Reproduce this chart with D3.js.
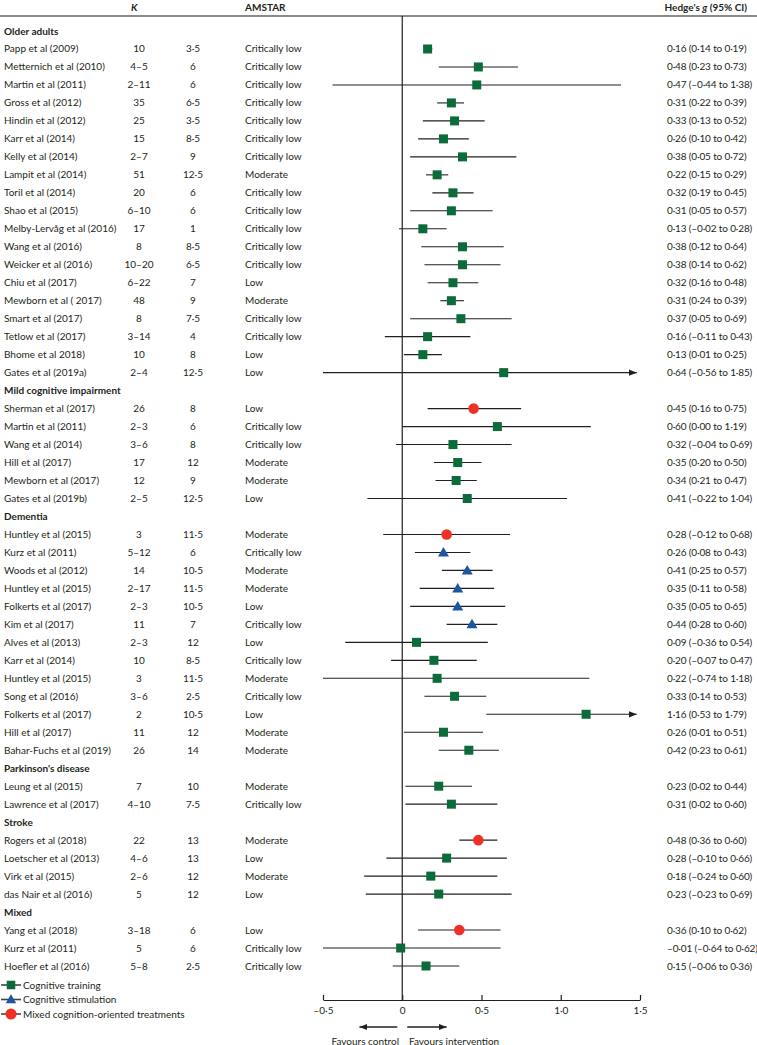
<!DOCTYPE html>
<html><head><meta charset="utf-8">
<script src="https://cdn.jsdelivr.net/npm/d3@7"></script>
<style>
body{margin:0;background:#fff;}
text{font-family:Lato,"Open Sans",sans-serif;fill:#231f20;}
</style></head><body>
<svg id="chart" width="757" height="1045"></svg>
<script>
const groupNames = ["Older adults","Mild cognitive impairment","Dementia","Parkinson's disease","Stroke","Mixed"];
const groupCounts = [19,6,13,2,4,3];
const studies = ["Papp et al (2009)","Metternich et al (2010)","Martin et al (2011)","Gross et al (2012)","Hindin et al (2012)","Karr et al (2014)","Kelly et al (2014)","Lampit et al (2014)","Toril et al (2014)","Shao et al (2015)","Melby-Lervåg et al (2016)","Wang et al (2016)","Weicker et al (2016)","Chiu et al (2017)","Mewborn et al ( 2017)","Smart et al (2017)","Tetlow et al (2017)","Bhome et al  2018)","Gates et al (2019a)",
"Sherman et al (2017)","Martin et al (2011)","Wang et al (2014)","Hill et al (2017)","Mewborn et al (2017)","Gates et al (2019b)",
"Huntley et al (2015)","Kurz et al (2011)","Woods et al (2012)","Huntley et al (2015)","Folkerts et al (2017)","Kim et al (2017)","Alves et al (2013)","Karr et al (2014)","Huntley et al (2015)","Song et al (2016)","Folkerts et al (2017)","Hill et al (2017)","Bahar-Fuchs et al (2019)",
"Leung et al (2015)","Lawrence et al (2017)",
"Rogers et al (2018)","Loetscher et al (2013)","Virk et al (2015)","das Nair et al (2016)",
"Yang et al (2018)","Kurz et al (2011)","Hoefler et al (2016)"];
const kValues = ["10","4–5","2–11","35","25","15","2–7","51","20","6–10","17","8","10–20","6–22","48","8","3–14","10","2–4",
"26","2–3","3–6","17","12","2–5",
"3","5–12","14","2–17","2–3","11","2–3","10","3","3–6","2","11","26",
"7","4–10",
"22","4–6","2–6","5",
"3–18","5","5–8"];
const amstarScores = ["3·5","6","6","6·5","3·5","8·5","9","12·5","6","6","1","8·5","6·5","7","9","7·5","4","8","12·5",
"8","6","8","12","9","12·5",
"11·5","6","10·5","11·5","10·5","7","12","8·5","11·5","2·5","10·5","12","14",
"10","7·5",
"13","13","12","12",
"6","6","2·5"];
const quality = ["Critically low","Critically low","Critically low","Critically low","Critically low","Critically low","Critically low","Moderate","Critically low","Critically low","Critically low","Critically low","Critically low","Low","Moderate","Critically low","Critically low","Low","Low",
"Low","Critically low","Critically low","Moderate","Moderate","Low",
"Moderate","Critically low","Moderate","Moderate","Low","Critically low","Low","Critically low","Moderate","Critically low","Low","Moderate","Moderate",
"Moderate","Critically low",
"Moderate","Low","Moderate","Low",
"Low","Critically low","Critically low"];
const gValues = [0.16,0.48,0.47,0.31,0.33,0.26,0.38,0.22,0.32,0.31,0.13,0.38,0.38,0.32,0.31,0.37,0.16,0.13,0.64,
0.45,0.60,0.32,0.35,0.34,0.41,
0.28,0.26,0.41,0.35,0.35,0.44,0.09,0.20,0.22,0.33,1.16,0.26,0.42,
0.23,0.31,
0.48,0.28,0.18,0.23,
0.36,-0.01,0.15];
const ciLow = [0.14,0.23,-0.44,0.22,0.13,0.10,0.05,0.15,0.19,0.05,-0.02,0.12,0.14,0.16,0.24,0.05,-0.11,0.01,-0.56,
0.16,0.00,-0.04,0.20,0.21,-0.22,
-0.12,0.08,0.25,0.11,0.05,0.28,-0.36,-0.07,-0.74,0.14,0.53,0.01,0.23,
0.02,0.02,
0.36,-0.10,-0.24,-0.23,
0.10,-0.64,-0.06];
const ciHigh = [0.19,0.73,1.38,0.39,0.52,0.42,0.72,0.29,0.45,0.57,0.28,0.64,0.62,0.48,0.39,0.69,0.43,0.25,1.85,
0.75,1.19,0.69,0.50,0.47,1.04,
0.68,0.43,0.57,0.58,0.65,0.60,0.54,0.47,1.18,0.53,1.79,0.51,0.61,
0.44,0.60,
0.60,0.66,0.60,0.69,
0.62,0.62,0.36];
// CT = cognitive training, CS = cognitive stimulation, MX = mixed
const treatment = ["CT","CT","CT","CT","CT","CT","CT","CT","CT","CT","CT","CT","CT","CT","CT","CT","CT","CT","CT",
"MX","CT","CT","CT","CT","CT",
"MX","CS","CS","CS","CS","CS","CT","CT","CT","CT","CT","CT","CT",
"CT","CT",
"MX","CT","CT","CT",
"MX","CT","CT"];
const legendKeys = ["CT","CS","MX"];
const legendLabels = ["Cognitive training","Cognitive stimulation","Mixed cognition-oriented treatments"];
const tickValues = [-0.5,0,0.5,1,1.5];
const tickLabels = ["–0·5","0","0·5","1·0","1·5"];

const colors = {CT:"#0b6b3a", CS:"#1c55a0", MX:"#ee3124"};
const fs = 10;
const svg = d3.select("#chart");

const rows = [];
let si = 0;
groupNames.forEach((gname, gi) => {
  rows.push({type:"header", label:gname});
  for (let j = 0; j < groupCounts[gi]; j++, si++) rows.push({type:"study", i:si});
});

const y = d3.scaleLinear().domain([0, rows.length - 1]).range([31, 966]);
const x = d3.scaleLinear().domain([-0.5, 1.5]).range([323, 640]);
const clipMax = 1.48;

const fmt = v => (v < 0 ? "–" : "") + Math.abs(v).toFixed(2).replace(".", "·");

// header
svg.append("line").attr("x1",0).attr("x2",757).attr("y1",16).attr("y2",16)
  .attr("stroke","#8a8a8a").attr("stroke-width",2);
svg.append("text").attr("x",131).attr("y",7).attr("dy","0.35em")
  .attr("font-size",fs).attr("font-weight","bold").attr("font-style","italic").text("K");
svg.append("text").attr("x",245).attr("y",7).attr("dy","0.35em")
  .attr("font-size",fs).attr("font-weight","bold").text("AMSTAR");
const ht = svg.append("text").attr("x",747).attr("y",7).attr("dy","0.35em")
  .attr("text-anchor","end").attr("font-size",fs).attr("font-weight","bold");
ht.append("tspan").text("Hedge's ");
ht.append("tspan").attr("font-style","italic").text("g");
ht.append("tspan").text(" (95% CI)");

svg.append("line").attr("x1",x(0)).attr("x2",x(0)).attr("y1",16).attr("y2",1000)
  .attr("stroke","#231f20").attr("stroke-width",1.2);

svg.append("defs").append("marker").attr("id","arr").attr("viewBox","0 0 10 10")
  .attr("refX",10).attr("refY",5).attr("markerWidth",8).attr("markerHeight",8)
  .attr("markerUnits","userSpaceOnUse").attr("orient","auto")
  .append("path").attr("d","M0,1L10,5L0,9Z").attr("fill","#231f20");

function drawMarker(g, type, cx, cy, s) {
  s = s || 1;
  if (type === "CT") {
    g.append("rect").attr("x",cx-4.5*s).attr("y",cy-4.5*s).attr("width",9*s).attr("height",9*s).attr("fill",colors.CT);
  } else if (type === "CS") {
    g.append("path").attr("d",`M${cx},${cy-5.5*s}L${cx+5.5*s},${cy+4*s}L${cx-5.5*s},${cy+4*s}Z`).attr("fill",colors.CS);
  } else {
    g.append("circle").attr("cx",cx).attr("cy",cy).attr("r",5.3*s).attr("fill",colors.MX);
  }
}

rows.forEach((r, ri) => {
  const yy = y(ri);
  if (r.type === "header") {
    svg.append("text").attr("x",4).attr("y",yy).attr("dy","0.35em")
      .attr("font-size",fs).attr("font-weight","bold").text(r.label);
    return;
  }
  const i = r.i;
  svg.append("text").attr("x",4).attr("y",yy).attr("dy","0.35em").attr("font-size",fs).text(studies[i]);
  svg.append("text").attr("x",139).attr("y",yy).attr("dy","0.35em").attr("text-anchor","middle").attr("font-size",fs).text(kValues[i]);
  svg.append("text").attr("x",193).attr("y",yy).attr("dy","0.35em").attr("text-anchor","middle").attr("font-size",fs).text(amstarScores[i]);
  svg.append("text").attr("x",245).attr("y",yy).attr("dy","0.35em").attr("font-size",fs).text(quality[i]);
  svg.append("text").attr("x",667).attr("y",yy).attr("dy","0.35em").attr("font-size",fs).attr("letter-spacing",-0.15)
    .text(`${fmt(gValues[i])} (${fmt(ciLow[i])} to ${fmt(ciHigh[i])})`);
  const lo = Math.max(ciLow[i], -0.5);
  const over = ciHigh[i] > 1.5;
  const hi = over ? clipMax : ciHigh[i];
  const ln = svg.append("line").attr("x1",x(lo)).attr("x2",x(hi)).attr("y1",yy).attr("y2",yy)
    .attr("stroke","#231f20").attr("stroke-width",1.1);
  if (over) ln.attr("marker-end","url(#arr)");
  drawMarker(svg, treatment[i], x(gValues[i]), yy);
});

// legend
legendKeys.forEach((k, li) => {
  const ly = 985 + li * 14.5;
  svg.append("line").attr("x1",1).attr("x2",21).attr("y1",ly).attr("y2",ly)
    .attr("stroke","#444").attr("stroke-width",1.6);
  drawMarker(svg, k, 11, ly, k === "MX" ? 1.05 : 0.95);
  svg.append("text").attr("x",23).attr("y",ly).attr("dy","0.35em").attr("font-size",fs).text(legendLabels[li]);
});

// axis
const axis = d3.axisBottom(x).tickValues(tickValues).tickFormat((d, i) => tickLabels[i])
  .tickSizeInner(-5).tickSizeOuter(0).tickPadding(7);
const ag = svg.append("g").attr("transform","translate(0,1000)").call(axis);
ag.select(".domain").attr("stroke","#231f20").attr("stroke-width",1.2);
ag.selectAll(".tick line").attr("stroke","#231f20").attr("stroke-width",1.2);
ag.selectAll(".tick text").attr("font-family","Lato,'Open Sans',sans-serif").attr("font-size",fs).attr("fill","#231f20");

// favours
const ay = 1027;
svg.append("line").attr("x1",x(0)-5).attr("x2",x(-0.27)).attr("y1",ay).attr("y2",ay)
  .attr("stroke","#231f20").attr("stroke-width",1.3).attr("marker-end","url(#arr)");
svg.append("line").attr("x1",x(0)+5).attr("x2",x(0.28)).attr("y1",ay).attr("y2",ay)
  .attr("stroke","#231f20").attr("stroke-width",1.3).attr("marker-end","url(#arr)");
svg.append("text").attr("x",399).attr("y",1041).attr("dy","0.35em").attr("text-anchor","end").attr("font-size",fs).text("Favours control");
svg.append("text").attr("x",409).attr("y",1041).attr("dy","0.35em").attr("font-size",fs).text("Favours intervention");
</script></body></html>
